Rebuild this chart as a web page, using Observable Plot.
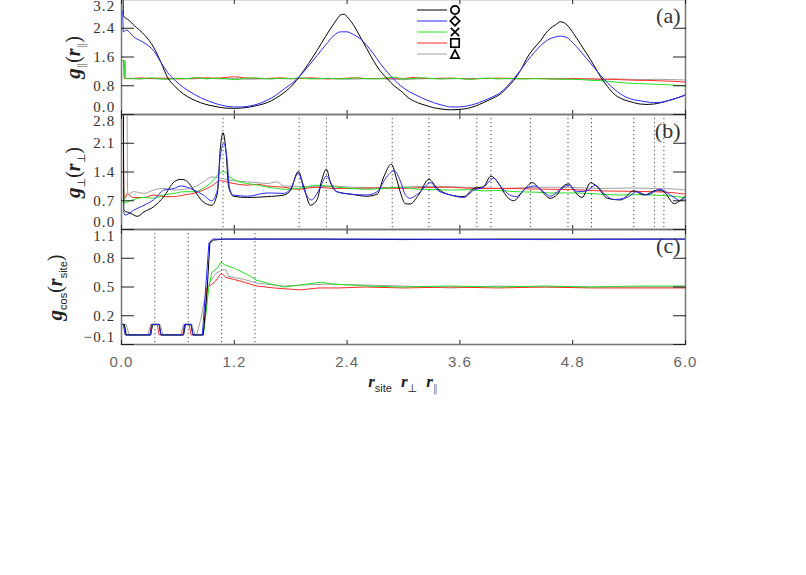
<!DOCTYPE html>
<html><head><meta charset="utf-8">
<script src="https://cdn.jsdelivr.net/npm/d3@7"></script>
<script src="https://cdn.jsdelivr.net/npm/@observablehq/plot@0.6"></script>
<style>
html,body{margin:0;padding:0;background:#fff;overflow:hidden}
#chart{position:relative;width:806px;height:575px;overflow:hidden;background:#fff}
#chart svg{position:absolute;left:0}
[aria-label="y-axis tick label"] text{letter-spacing:1.2px}
[aria-label="x-axis tick label"] text{letter-spacing:1px}
</style></head><body><div id="chart"></div>
<script>
// ---------- data ----------
const xTicks = [0, 1.2, 2.4, 3.6, 4.8, 6.0];
const aTicks = [0, 0.8, 1.6, 2.4, 3.2];
const bTicks = [0, 0.7, 1.4, 2.1, 2.8];
const cTicks = [-0.1, 0.2, 0.5, 0.8, 1.1];
const seriesColors = ["#000000", "#2a2aff", "#22e022", "#ff2a2a", "#a0a0a0"];
const legendSymbols = ["circle", "diamond", "times", "square", "triangle"];
const bLines = [1.08, 1.89, 2.18, 2.88, 3.27, 3.78, 3.93, 4.35, 4.75, 5.0, 5.45, 5.67, 5.77];
const cLines = [0.355, 0.71, 1.065, 1.42];

// panel (a): g_par(r_par)
const aBlack = [[0,3.5],[0.015,3.5],[0.02,2.75],[0.08,2.62],[0.13,2.49],[0.25,2.2],[0.34,1.88],[0.42,1.45],[0.49,1.03],[0.57,0.78],[0.66,0.57],[0.75,0.43],[0.84,0.33],[0.93,0.26],[1.02,0.21],[1.1,0.18],[1.19,0.17],[1.28,0.18],[1.37,0.21],[1.46,0.26],[1.55,0.33],[1.64,0.45],[1.73,0.61],[1.82,0.82],[1.90,1.08],[1.99,1.42],[2.08,1.78],[2.17,2.17],[2.26,2.53],[2.30,2.68],[2.33,2.77],[2.37,2.79],[2.40,2.72],[2.47,2.48],[2.54,2.16],[2.61,1.83],[2.68,1.50],[2.75,1.22],[2.83,0.99],[2.90,0.80],[2.97,0.66],[3.06,0.45],[3.15,0.33],[3.24,0.25],[3.32,0.19],[3.41,0.15],[3.50,0.13],[3.59,0.14],[3.68,0.17],[3.77,0.24],[3.85,0.33],[3.94,0.44],[4.03,0.57],[4.10,0.74],[4.17,0.94],[4.25,1.25],[4.32,1.60],[4.39,1.85],[4.46,2.06],[4.51,2.25],[4.56,2.39],[4.62,2.50],[4.67,2.58],[4.71,2.55],[4.74,2.49],[4.81,2.25],[4.88,1.97],[4.95,1.69],[5.03,1.35],[5.10,1.03],[5.17,0.78],[5.24,0.57],[5.31,0.45],[5.38,0.38],[5.45,0.33],[5.52,0.29],[5.59,0.28],[5.66,0.29],[5.74,0.33],[5.81,0.38],[5.90,0.45],[6.0,0.54]];
const aBlue = [[0,2.9],[0.01,2.9],[0.02,2.3],[0.05,2.35],[0.13,2.16],[0.25,1.98],[0.34,1.78],[0.42,1.45],[0.49,1.17],[0.57,0.95],[0.66,0.75],[0.75,0.60],[0.84,0.47],[0.93,0.37],[1.02,0.29],[1.10,0.24],[1.19,0.21],[1.28,0.21],[1.37,0.24],[1.46,0.30],[1.55,0.40],[1.64,0.53],[1.73,0.71],[1.82,0.88],[1.90,1.08],[1.99,1.35],[2.08,1.64],[2.17,1.93],[2.26,2.20],[2.33,2.30],[2.40,2.30],[2.47,2.22],[2.54,2.11],[2.61,1.92],[2.68,1.69],[2.75,1.43],[2.83,1.17],[2.90,0.97],[2.97,0.80],[3.06,0.64],[3.15,0.52],[3.24,0.41],[3.32,0.33],[3.41,0.26],[3.50,0.21],[3.59,0.21],[3.68,0.24],[3.77,0.30],[3.85,0.38],[3.94,0.48],[4.03,0.61],[4.10,0.78],[4.17,0.99],[4.25,1.25],[4.32,1.50],[4.39,1.72],[4.46,1.92],[4.51,2.03],[4.56,2.11],[4.62,2.16],[4.67,2.18],[4.74,2.14],[4.81,1.97],[4.88,1.77],[4.95,1.55],[5.03,1.30],[5.10,1.08],[5.17,0.88],[5.24,0.71],[5.31,0.57],[5.38,0.47],[5.45,0.41],[5.52,0.38],[5.59,0.35],[5.66,0.33],[5.74,0.34],[5.81,0.38],[5.90,0.45],[6.0,0.55]];
const aGreen = [[0,1.5],[0.03,1.5],[0.035,1.0],[0.1,1.01],[0.2,0.99],[0.3,1.02],[0.4,1.0],[0.5,0.98],[0.6,1.01],[0.7,1.0],[0.8,1.03],[0.9,0.99],[1.0,1.01],[1.1,1.0],[1.2,0.97],[1.3,1.0],[1.4,1.02],[1.5,1.0],[1.6,0.99],[1.7,1.01],[1.8,1.0],[1.9,1.02],[2.0,0.99],[2.1,1.0],[2.2,1.01],[2.3,0.99],[2.4,1.0],[2.5,1.02],[2.6,1.0],[2.7,0.99],[2.8,1.01],[2.9,1.04],[3.0,0.99],[3.1,1.0],[3.2,1.02],[3.3,1.0],[3.4,0.99],[3.5,1.01],[3.6,1.0],[3.7,0.98],[3.8,1.0],[3.9,1.01],[4.0,0.99],[4.1,1.0],[4.2,1.0],[4.3,0.99],[4.4,1.0],[4.5,0.99],[4.6,0.99],[4.7,0.98],[4.8,0.98],[4.9,0.97],[5.0,0.95],[5.1,0.94],[5.2,0.92],[5.3,0.89],[5.4,0.87],[5.5,0.86],[5.6,0.85],[5.7,0.84],[5.8,0.83],[5.9,0.81],[6.0,0.80]];
const aRed = [[0,1.5],[0.02,1.5],[0.03,1.0],[0.1,1.0],[0.2,1.02],[0.3,1.0],[0.4,1.01],[0.5,1.01],[0.6,0.99],[0.7,1.0],[0.8,1.01],[0.9,1.02],[1.0,1.01],[1.1,1.03],[1.2,1.05],[1.3,1.02],[1.4,1.01],[1.5,1.0],[1.6,1.01],[1.7,1.02],[1.8,1.0],[1.9,1.0],[2.0,1.02],[2.1,1.01],[2.2,0.99],[2.3,1.0],[2.4,1.01],[2.5,1.02],[2.6,1.0],[2.7,1.0],[2.8,1.01],[2.9,1.01],[3.0,1.0],[3.1,1.03],[3.2,1.01],[3.3,1.0],[3.4,1.01],[3.5,1.01],[3.6,1.0],[3.7,0.99],[3.8,1.0],[3.9,1.0],[4.0,1.01],[4.1,1.01],[4.2,1.0],[4.3,1.0],[4.4,1.0],[4.5,1.0],[4.6,0.99],[4.7,0.99],[4.8,1.0],[4.9,0.99],[5.0,0.99],[5.1,0.98],[5.2,0.98],[5.3,0.97],[5.4,0.96],[5.5,0.95],[5.6,0.95],[5.7,0.94],[5.8,0.93],[5.9,0.92],[6.0,0.90]];
const aGray = [[0,1.5],[0.04,1.5],[0.045,1.0],[0.15,0.99],[0.3,1.0],[0.45,0.98],[0.6,1.0],[0.75,0.99],[0.9,1.01],[1.05,0.99],[1.2,1.0],[1.35,0.98],[1.5,0.99],[1.65,1.0],[1.8,0.99],[1.95,1.01],[2.1,0.99],[2.25,1.0],[2.4,0.98],[2.55,0.99],[2.7,1.0],[2.85,0.98],[3.0,0.97],[3.15,0.99],[3.3,1.0],[3.45,0.99],[3.6,1.0],[3.75,0.99],[3.9,1.01],[4.05,1.0],[4.2,0.99],[4.35,1.0],[4.5,1.0],[4.65,0.99],[4.8,1.0],[4.95,0.99],[5.1,0.98],[5.25,0.99],[5.4,0.98],[5.55,0.97],[5.7,0.98],[5.85,0.97],[6.0,0.96]];

// panel (b): g_perp(r_perp)
const bBlack = [[0.02,3.0],[0.025,0.47],[0.10,0.39],[0.17,0.32],[0.24,0.43],[0.34,0.55],[0.45,0.80],[0.56,1.16],[0.63,1.22],[0.68,1.20],[0.77,0.96],[0.87,0.67],[0.96,0.59],[1.02,0.88],[1.05,1.94],[1.08,2.36],[1.11,1.94],[1.14,1.04],[1.19,0.81],[1.34,0.78],[1.55,0.80],[1.73,0.84],[1.80,0.96],[1.88,1.41],[1.94,1.04],[2.01,0.59],[2.08,0.72],[2.13,1.20],[2.18,1.47],[2.22,1.16],[2.29,0.92],[2.44,0.86],[2.61,0.81],[2.72,0.86],[2.79,1.28],[2.87,1.59],[2.93,1.20],[2.97,0.88],[3.02,0.63],[3.07,0.62],[3.16,0.84],[3.27,1.22],[3.36,1.00],[3.50,0.84],[3.64,0.80],[3.75,1.00],[3.85,1.04],[3.93,1.30],[4.00,1.16],[4.10,0.80],[4.17,0.70],[4.28,0.96],[4.37,1.14],[4.46,0.96],[4.56,0.76],[4.63,0.84],[4.70,1.06],[4.76,1.11],[4.81,0.96],[4.90,0.78],[4.99,1.14],[5.06,1.04],[5.17,0.76],[5.31,0.72],[5.45,0.94],[5.56,0.84],[5.70,0.96],[5.77,0.92],[5.88,0.63],[5.95,0.72],[6.0,0.81]];
const bBlue = [[0.02,0.45],[0.04,0.35],[0.13,0.47],[0.24,0.59],[0.34,0.72],[0.45,0.96],[0.56,1.00],[0.63,1.06],[0.77,0.96],[0.87,0.84],[0.96,0.70],[1.02,0.96],[1.05,1.77],[1.09,2.10],[1.12,1.77],[1.15,1.00],[1.19,0.84],[1.34,0.81],[1.55,0.89],[1.73,0.88],[1.80,1.00],[1.88,1.37],[1.95,0.92],[2.02,0.72],[2.10,0.96],[2.18,1.30],[2.24,1.08],[2.29,0.92],[2.44,0.86],[2.61,0.84],[2.72,0.92],[2.82,1.28],[2.90,1.43],[2.97,1.16],[3.02,0.84],[3.07,0.76],[3.16,0.88],[3.29,1.14],[3.36,0.96],[3.50,0.84],[3.64,0.78],[3.75,0.96],[3.85,1.03],[3.96,1.25],[4.03,1.06],[4.13,0.84],[4.20,0.80],[4.30,1.00],[4.40,1.06],[4.49,0.92],[4.56,0.81],[4.66,0.96],[4.76,1.08],[4.85,0.92],[4.95,0.94],[5.04,1.08],[5.13,0.88],[5.24,0.73],[5.38,0.78],[5.48,0.92],[5.59,0.84],[5.73,0.98],[5.84,0.84],[5.95,0.70],[6.0,0.76]];
const bGreen = [[0.02,1.2],[0.03,0.65],[0.06,0.67],[0.13,0.73],[0.24,0.78],[0.34,0.76],[0.45,0.84],[0.56,0.88],[0.66,0.92],[0.77,0.92],[0.87,1.00],[0.96,1.16],[1.05,1.38],[1.09,1.41],[1.15,1.28],[1.22,1.19],[1.34,1.12],[1.45,1.08],[1.55,1.03],[1.65,1.0],[1.73,0.98],[1.88,1.00],[2.0,1.05],[2.08,1.08],[2.18,1.06],[2.29,1.03],[2.45,1.0],[2.61,0.98],[2.8,1.0],[2.97,1.03],[3.16,0.98],[3.35,0.97],[3.50,0.96],[3.7,0.97],[3.85,0.94],[4.0,0.95],[4.20,0.92],[4.4,0.91],[4.56,0.89],[4.75,0.89],[4.95,0.88],[5.1,0.86],[5.31,0.84],[5.5,0.85],[5.66,0.84],[5.85,0.81],[6.0,0.78]];
const bRed = [[0.02,3.0],[0.025,0.85],[0.04,0.76],[0.06,0.88],[0.08,0.84],[0.13,0.78],[0.24,0.78],[0.34,0.84],[0.45,0.80],[0.56,0.80],[0.66,0.84],[0.77,0.88],[0.87,0.96],[0.96,1.06],[1.05,1.19],[1.15,1.14],[1.34,1.08],[1.45,1.10],[1.55,1.06],[1.73,1.03],[1.88,0.98],[2.08,1.03],[2.25,1.0],[2.44,1.00],[2.7,1.01],[2.97,1.00],[3.2,1.02],[3.50,1.03],[3.75,1.0],[4.03,1.00],[4.3,0.99],[4.56,0.98],[4.8,0.97],[5.10,0.94],[5.4,0.93],[5.66,0.92],[5.85,0.90],[6.0,0.86]];
const bGray = [[0.06,3.0],[0.065,0.9],[0.08,0.88],[0.13,0.92],[0.24,0.88],[0.34,0.96],[0.45,1.00],[0.56,0.96],[0.66,0.98],[0.77,1.03],[0.87,1.16],[0.96,1.28],[1.05,1.25],[1.15,1.20],[1.34,1.16],[1.45,1.14],[1.55,1.12],[1.65,1.16],[1.73,1.06],[1.9,1.05],[2.08,1.04],[2.25,1.06],[2.44,1.03],[2.7,1.02],[2.97,1.03],[3.2,1.05],[3.50,1.04],[3.75,1.02],[4.03,1.00],[4.3,1.02],[4.56,1.03],[4.8,1.02],[5.10,1.00],[5.4,1.01],[5.66,1.00],[5.85,0.99],[6.0,0.96]];

// panel (c): g_cos(r_site)
const cBlack = [[0,0.11],[0.03,0.11],[0.05,0],[0.31,0],[0.33,0.11],[0.40,0.11],[0.42,0],[0.66,0],[0.68,0.11],[0.74,0.11],[0.76,0],[0.87,0],[0.91,0.45],[0.94,0.96],[0.98,0.99],[1.1,1.0],[2,1.0],[3,0.995],[4,1.0],[5,1.0],[6,1.0]];
const cBlue = [[0,0.11],[0.02,0.11],[0.04,0],[0.31,0],[0.32,0.11],[0.40,0.11],[0.42,0],[0.66,0],[0.67,0.11],[0.74,0.11],[0.76,0],[0.86,0],[0.93,0.96],[0.97,1.0],[1.5,1.0],[3,1.0],[4.5,0.995],[6,1.0]];
const cGreen = [[0,0.11],[0.03,0.11],[0.05,0],[0.31,0],[0.33,0.11],[0.40,0.11],[0.42,0],[0.66,0],[0.68,0.11],[0.74,0.11],[0.76,0],[0.87,0],[0.89,0.15],[0.93,0.50],[0.96,0.65],[1.02,0.70],[1.06,0.76],[1.10,0.73],[1.19,0.70],[1.34,0.63],[1.44,0.57],[1.59,0.53],[1.73,0.50],[1.90,0.52],[2.12,0.55],[2.26,0.53],[2.61,0.51],[2.97,0.50],[3.5,0.51],[4,0.50],[4.5,0.51],[5,0.50],[5.5,0.51],[6,0.51]];
const cRed = [[0,0.11],[0.02,0.11],[0.04,0],[0.30,0],[0.32,0.11],[0.38,0.11],[0.40,0],[0.65,0],[0.67,0.11],[0.72,0.11],[0.74,0],[0.86,0],[0.88,0.1],[0.91,0.49],[0.95,0.52],[1.0,0.56],[1.05,0.63],[1.07,0.64],[1.11,0.60],[1.19,0.58],[1.27,0.56],[1.44,0.51],[1.62,0.49],[1.90,0.47],[2.1,0.49],[2.3,0.49],[2.6,0.50],[3,0.49],[3.5,0.50],[4,0.49],[4.5,0.50],[5,0.49],[5.5,0.49],[6,0.49]];
const cGray = [[0,0.11],[0.05,0.11],[0.08,0],[0.28,0],[0.31,0.11],[0.41,0.11],[0.44,0],[0.63,0],[0.66,0.11],[0.75,0.11],[0.78,0],[0.80,0],[0.84,0.15],[0.91,0.50],[1.0,0.64],[1.04,0.66],[1.08,0.68],[1.11,0.68],[1.14,0.61],[1.3,0.58],[1.44,0.54],[1.73,0.51],[1.9,0.52],[2.2,0.53],[2.6,0.52],[3,0.51],[3.5,0.49],[4,0.51],[4.5,0.50],[5,0.50],[5.5,0.50],[6,0.50]];

// ---------- drawing ----------
const chart = document.getElementById("chart");
const fmt = d3.format(".1f");
const FRAME_H = 115;
const MT = 20;

function lines(series, curve) {
  const order = [4, 3, 2, 0, 1];
  return order.map(i => Plot.line(series[i], {x: d => d[0], y: d => d[1], stroke: seriesColors[i], strokeWidth: 1, clip: true, curve}));
}

function yAxes(ticks) {
  const mid = ticks.slice(1, -1);
  const textOpts = {anchor: "left", tickSize: 0, tickPadding: 6, stroke: "none", fill: "#333", label: null,
    tickFormat: fmt, fontFamily: "Liberation Serif", fontSize: 15};
  return [
    Plot.axisY(ticks, {anchor: "left", tickSize: -13, fill: "none", stroke: "#222", label: null}),
    Plot.axisY(ticks, {anchor: "right", tickSize: -13, fill: "none", stroke: "#222", label: null}),
    Plot.axisY(mid, textOpts),
    Plot.axisY([ticks[ticks.length - 1]], {...textOpts, dy: 7}),
    Plot.axisY([ticks[0]], {...textOpts, dy: -7})
  ];
}

function xTickMarks() {
  return [
    Plot.axisX(xTicks, {anchor: "bottom", tickSize: -4, fill: "none", stroke: "#222", label: null}),
    Plot.axisX(xTicks, {anchor: "top", tickSize: -4, fill: "none", stroke: "#222", label: null})
  ];
}

function panel({domain, ticks, series, rules, tag, mb, top, curve}) {
  const marks = [];
  if (rules) marks.push(Plot.ruleX(rules, {x: d => d, stroke: "#444", strokeWidth: 1, strokeDasharray: "1.2,2.8"}));
  marks.push(...lines(series, curve));
  marks.push(Plot.frame({stroke: "#777", strokeWidth: 1.5}));
  marks.push(...yAxes(ticks));
  marks.push(...xTickMarks());
  marks.push(Plot.text([tag], {text: d => d, frameAnchor: "top-right", textAnchor: "end", lineAnchor: "middle",
    dx: -5, dy: 16, fontFamily: "Liberation Serif", fontSize: 22, fill: "#333"}));
  const svg = Plot.plot({
    width: 806, height: MT + FRAME_H + mb,
    marginLeft: 121, marginRight: 121, marginTop: MT, marginBottom: mb,
    x: {domain: [0, 6]}, y: {domain},
    style: {background: "transparent", overflow: "visible"},
    marks
  });
  svg.style.top = top + "px";
  chart.appendChild(svg);
  return svg;
}

function richText(sel, parts) {
  for (const p of parts) {
    const t = sel.append("tspan").text(p.t)
      .attr("font-size", p.size)
      .attr("font-style", p.it ? "italic" : "normal")
      .attr("font-weight", p.b ? "bold" : "normal")
      .attr("font-family", p.ff || "Liberation Serif");
    if (p.dy) t.attr("dy", p.dy);
    if (p.dx) t.attr("dx", p.dx);
    if (p.fill) t.attr("fill", p.fill);
  }
}

function yTitle(svg, x, parts) {
  const t = d3.select(svg).append("text")
    .attr("transform", `translate(${x},${MT + FRAME_H / 2 + 1}) rotate(-90)`)
    .attr("text-anchor", "middle").attr("fill", "#222");
  richText(t, parts);
}

const svgA = panel({domain: [0, 3.2], ticks: aTicks, series: [aBlack, aBlue, aGreen, aRed, aGray], tag: "(a)", mb: 6, top: -21, curve: "monotone-x"});
const svgB = panel({domain: [0, 2.8], ticks: bTicks, series: [bBlack, bBlue, bGreen, bRed, bGray], rules: bLines, tag: "(b)", mb: 6, top: 94, curve: "monotone-x"});
const svgC = panel({domain: [-0.1, 1.1], ticks: cTicks, series: [cBlack, cBlue, cGreen, cRed, cGray], rules: cLines, tag: "(c)", mb: 60, top: 209, curve: "linear"});

// x tick labels on bottom panel
{
  const lab = Plot.plot({
    width: 806, height: MT + FRAME_H + 60, marginLeft: 121, marginRight: 121, marginTop: MT, marginBottom: 60,
    x: {domain: [0, 6]}, y: {domain: [-0.1, 1.1], axis: null},
    style: {background: "transparent", overflow: "visible"},
    marks: [Plot.axisX(xTicks, {anchor: "bottom", tickSize: 0, tickPadding: 12, stroke: "none", fill: "#666", label: null,
      tickFormat: fmt, fontFamily: "Liberation Sans", fontSize: 15})]
  });
  lab.style.top = "209px";
  chart.appendChild(lab);
  const t = d3.select(lab).append("text")
    .attr("transform", `translate(${121 + 282},${MT + FRAME_H + 43})`)
    .attr("text-anchor", "middle").attr("fill", "#222");
  richText(t, [
    {t: "r", size: 17, it: true, b: true},
    {t: "site", size: 11, dy: 5, ff: "Liberation Sans"},
    {t: "r", size: 17, it: true, b: true, dy: -5, dx: 9},
    {t: "⊥", size: 11, dy: 5, ff: "DejaVu Sans"},
    {t: "r", size: 17, it: true, b: true, dy: -5, dx: 9},
    {t: "‖", size: 10, dy: 5, ff: "DejaVu Sans", fill: "#888"}
  ]);
}

yTitle(svgA, 80, [
  {t: "g", size: 21, it: true, b: true},
  {t: "‖", size: 11, dy: 5, ff: "DejaVu Sans", fill: "#888"},
  {t: "(", size: 20, dy: -5},
  {t: "r", size: 20, it: true, b: true},
  {t: "‖", size: 11, dy: 5, ff: "DejaVu Sans", fill: "#888"},
  {t: ")", size: 20, dy: -5}
]);
yTitle(svgB, 80, [
  {t: "g", size: 21, it: true, b: true},
  {t: "⊥", size: 11, dy: 5, ff: "DejaVu Sans"},
  {t: "(", size: 20, dy: -5},
  {t: "r", size: 20, it: true, b: true},
  {t: "⊥", size: 11, dy: 5, ff: "DejaVu Sans"},
  {t: ")", size: 20, dy: -5}
]);
yTitle(svgC, 62, [
  {t: "g", size: 21, it: true, b: true},
  {t: "cos", size: 11, dy: 5, ff: "Liberation Sans"},
  {t: "(", size: 20, dy: -5},
  {t: "r", size: 20, it: true, b: true},
  {t: "site", size: 11, dy: 5, ff: "Liberation Sans"},
  {t: ")", size: 20, dy: -5}
]);

// legend (top of panel a)
{
  const lg = d3.select(chart).append("svg").attr("width", 806).attr("height", 80)
    .style("top", "0px").style("background", "transparent");
  const x0 = 417, x1 = 447, sx = 455, y0 = 10, dyRow = 11, s = 4.2;
  seriesColors.forEach((c, i) => {
    const y = y0 + i * dyRow;
    lg.append("line").attr("x1", x0).attr("x2", x1).attr("y1", y).attr("y2", y).attr("stroke", c).attr("stroke-width", 1);
    const g = lg.append("g").attr("transform", `translate(${sx},${y})`).attr("fill", "none").attr("stroke", "#000").attr("stroke-width", 1.7);
    const sym = legendSymbols[i];
    if (sym === "circle") g.append("circle").attr("r", s);
    else if (sym === "diamond") g.append("path").attr("d", `M0,${-s-0.5}L${s+0.5},0L0,${s+0.5}L${-s-0.5},0Z`);
    else if (sym === "times") g.append("path").attr("d", `M${-s},${-s}L${s},${s}M${-s},${s}L${s},${-s}`);
    else if (sym === "square") g.append("rect").attr("x", -s).attr("y", -s).attr("width", 2 * s).attr("height", 2 * s);
    else g.append("path").attr("d", `M0,${-s}L${s},${s}L${-s},${s}Z`);
  });
}
</script></body></html>
